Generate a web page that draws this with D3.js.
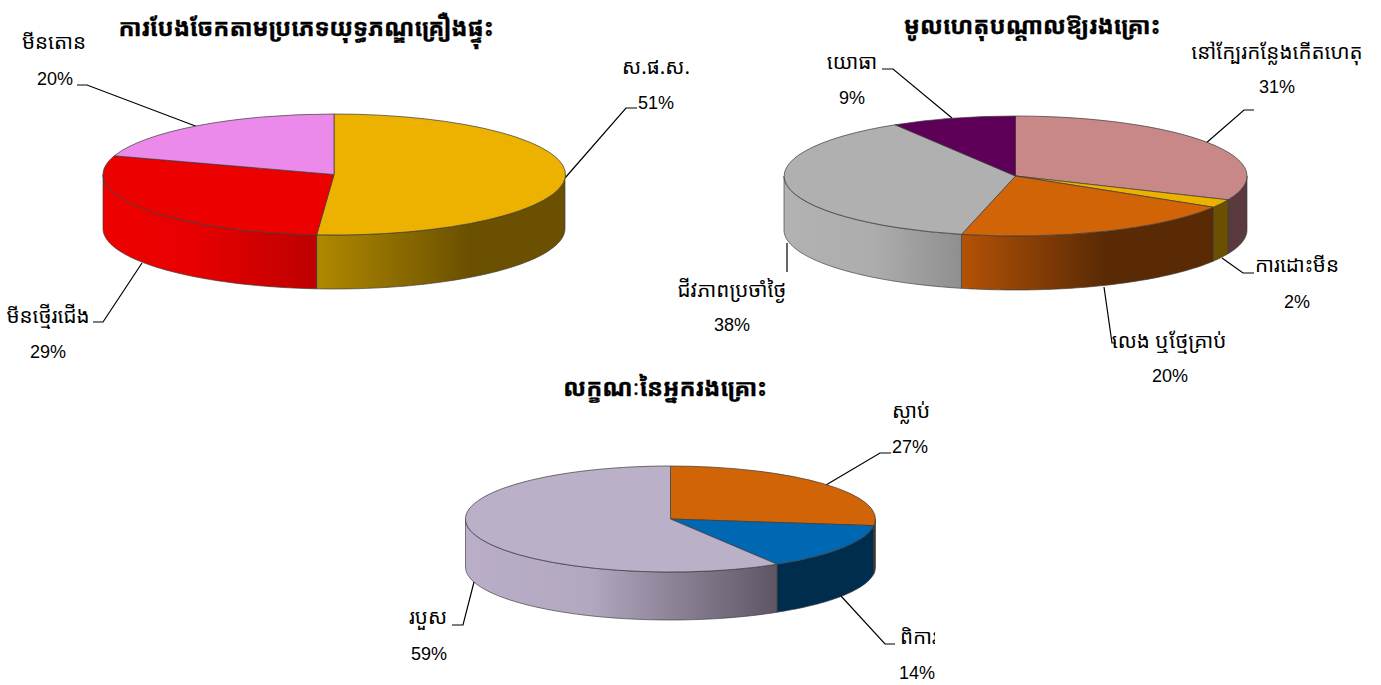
<!DOCTYPE html>
<html><head><meta charset="utf-8">
<script src="https://cdn.jsdelivr.net/npm/d3@7"></script>
<style>
html,body{margin:0;padding:0;background:#fff;overflow:hidden}
svg{display:block}
text{fill:#000;text-anchor:middle;dominant-baseline:central}
.km{font-family:"Noto Sans Khmer","Khmer OS","Khmer OS Siemreap","Noto Sans","DejaVu Sans",sans-serif;font-size:20.6px}
.ttl{font-family:"Noto Sans Khmer","Khmer OS Muol","Noto Sans","DejaVu Sans",sans-serif;font-size:23.7px;font-weight:700;stroke:#000;stroke-width:0.35px}
.pct{font-family:"Liberation Sans",Arial,sans-serif;font-size:18px}
</style></head><body>
<svg id="c" width="1381" height="685"></svg>
<script>
// ---- data ----
const weaponTitle = "ការបែងចែកតាមប្រភេទយុទ្ធភណ្ឌគ្រឿងផ្ទុះ";
const weaponCats = ["ស.ផ.ស.", "មីនថ្មើរជើង", "មីនតោន"];
const weaponVals = [51.2, 28.8, 20];
const weaponPct  = ["51%", "29%", "20%"];

const causeTitle = "មូលហេតុបណ្តាលឱ្យរងគ្រោះ";
const causeCats = ["នៅក្បែរកន្លែងកើតហេតុ", "ការដោះមីន", "លេង ឬថ្មែគ្រាប់", "ជីវភាពប្រចាំថ្ងៃ", "យោធា"];
const causeVals = [31.5, 2.2, 20.05, 37.55, 8.7];
const causePct  = ["31%", "2%", "20%", "38%", "9%"];

const victimTitle = "លក្ខណៈនៃអ្នករងគ្រោះ";
const victimCats = ["ស្លាប់", "ពិការ", "របួស"];
const victimVals = [27, 14.3, 58.7];
const victimPct  = ["27%", "14%", "59%"];

// ---- layout and style ----
const charts = [
 {title:weaponTitle,cats:weaponCats,vals:weaponVals,pct:weaponPct,
  cx:334,cy:174.5,rx:231,ry:60.5,depth:54,tx:306,ty:27,
  top:["#edb200","#ec0000","#ec8aec"],
  wall:[[[0,"#b08900"],[0.62,"#6a5000"],[1,"#6a5000"]],[[0,"#ee0000"],[0.42,"#e80000"],[1,"#bd0000"]],[[0,"#ec8aec"],[1,"#ec8aec"]]],
  lab:[[656,66,656,103],[48,315,48,352],[54,41,55,79]],
  lead:[[[637,108],[626,108],[565,178]],[[93,322],[103,322],[142,263]],[[77,85],[87,85],[198,127]]]},
 {title:causeTitle,cats:causeCats,vals:causeVals,pct:causePct,
  cx:1015.5,cy:176,rx:231.5,ry:60,depth:54,tx:1032,ty:25,
  top:["#c88888","#edb200","#d26408","#b0b0b0","#5e0058"],
  wall:[[[0,"#5a3a3e"],[1,"#5a3a3e"]],[[0,"#6a5000"],[1,"#6a5000"]],[[0,"#b35207"],[0.57,"#5a2a04"],[1,"#5a2a04"]],[[0,"#b2b2b2"],[0.5,"#adadad"],[1,"#8f8f8f"]],[[0,"#5e0058"],[1,"#5e0058"]]],
  lab:[[1277,51,1277,87],[1297,264,1297,302],[1169,340,1170,376],[732,289,732,325],[852,61,852,98]],
  lead:[[[1254,110],[1244,110],[1205,144]],[[1254,273],[1243,273],[1222,258]],[[1116,343],[1112,343],[1104,287]],[[787,272],[787,243]],[[882,69],[893,69],[952,118]]]},
 {title:victimTitle,cats:victimCats,vals:victimVals,pct:victimPct,
  cx:670.5,cy:519,rx:205,ry:53,depth:48,tx:665,ty:387,
  top:["#d26408","#0068b2","#bab0c8"],
  wall:[[[0,"#6b3404"],[1,"#6b3404"]],[[0,"#002c4e"],[1,"#002c4e"]],[[0,"#baaec8"],[0.4,"#b2a8bf"],[1,"#5e5565"]]],
  lab:[[911,410,910,447],[919,636,917,673],[428,616,429,654]],
  lead:[[[891,453],[880,453],[826,485]],[[895,644],[885,644],[841,596]],[[452,625],[463,625],[474,582]]]}
];

const svg = d3.select("#c");
const defs = svg.append("defs");
defs.append("clipPath").attr("id","cutLabel").append("rect")
    .attr("x",0).attr("y",0).attr("width",935).attr("height",685);
const edge = "#3a3a3a";
const pie = d3.pie().sort(null).startAngle(0).endAngle(2*Math.PI);
const unitArc = d3.arc().innerRadius(0).outerRadius(1);

charts.forEach((c,ci)=>{
  const g = svg.append("g");
  const x = d3.scaleLinear().domain([-1,1]).range([c.cx-c.rx,c.cx+c.rx]);
  const y = d3.scaleLinear().domain([-1,1]).range([c.cy-c.ry,c.cy+c.ry]);
  const arcs = pie(c.vals);

  // side walls: only the part of each slice facing the viewer
  arcs.forEach((a,i)=>{
    const s = Math.max(a.startAngle,Math.PI/2), e = Math.min(a.endAngle,Math.PI*1.5);
    if(e<=s) return;
    const id = `w${ci}_${i}`;
    const grad = defs.append("linearGradient").attr("id",id).attr("x1",0).attr("x2",1).attr("y1",0).attr("y2",0);
    c.wall[i].forEach(t=>grad.append("stop").attr("offset",t[0]).attr("stop-color",t[1]));
    const ang = d3.range(0,61).map(k=>s+(e-s)*k/60);
    const area = d3.area()
      .x(t=>x(Math.sin(t)))
      .y0(t=>y(-Math.cos(t)))
      .y1(t=>y(-Math.cos(t))+c.depth);
    g.append("path").attr("d",area(ang)).attr("fill",`url(#${id})`)
      .attr("stroke",edge).attr("stroke-opacity",0.65).attr("stroke-width",1);
  });

  // leader lines
  const line = d3.line();
  c.lead.forEach(p=>g.append("path").attr("d",line(p)).attr("fill","none")
      .attr("stroke","#000").attr("stroke-width",1.2));

  // top face
  const topG = g.append("g").attr("transform",`translate(${c.cx},${c.cy}) scale(${c.rx},${c.ry})`);
  arcs.forEach((a,i)=>{
    topG.append("path").attr("d",unitArc(a)).attr("fill",c.top[i])
      .attr("stroke",edge).attr("stroke-opacity",0.7)
      .attr("stroke-width",1).attr("vector-effect","non-scaling-stroke");
  });

  // texts
  g.append("text").attr("class","ttl").attr("x",c.tx).attr("y",c.ty).text(c.title);
  c.cats.forEach((n,i)=>{
    const L = c.lab[i];
    const t = g.append("text").attr("class","km").attr("x",L[0]).attr("y",L[1]).text(n);
    if(n==="ពិការ") t.attr("clip-path","url(#cutLabel)");
    g.append("text").attr("class","pct").attr("x",L[2]).attr("y",L[3]).text(c.pct[i]);
  });
});
</script>
</body></html>
